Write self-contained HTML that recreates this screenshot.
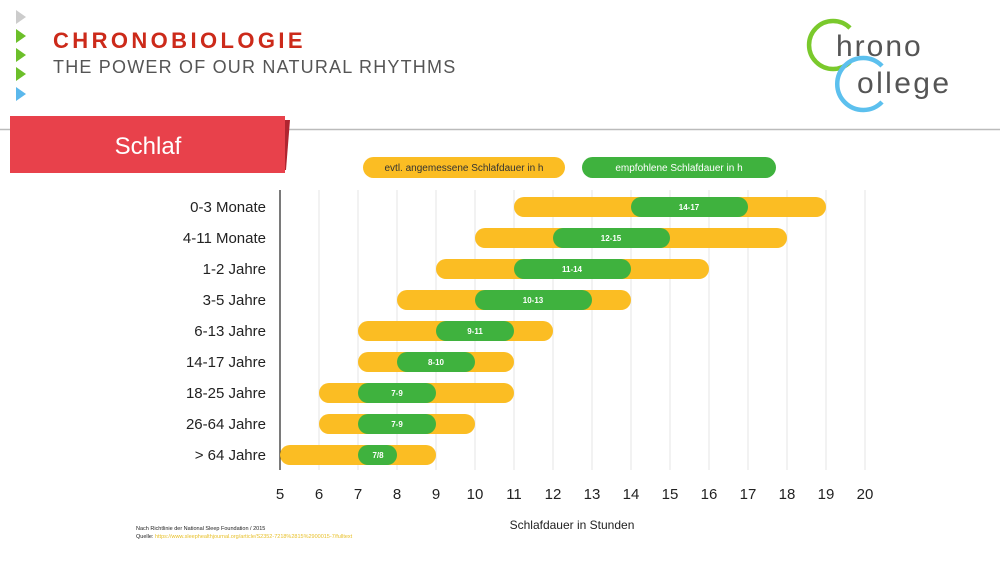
<!DOCTYPE html>
<html><head><meta charset="utf-8"><style>
body{margin:0;width:1000px;height:563px;background:#fff;position:relative;overflow:hidden;font-family:"Liberation Sans",sans-serif}
.a{position:absolute}
</style></head><body>
<svg class="a" style="left:0;top:0" width="1000" height="563">
<polygon points="16,10 26,17 16,24" fill="#ccc"/>
<polygon points="16,29 26,36 16,43" fill="#6cbf2a"/>
<polygon points="16,48 26,55 16,62" fill="#6cbf2a"/>
<polygon points="16,67 26,74 16,81" fill="#6cbf2a"/>
<polygon points="16,87 26,94 16,101" fill="#5bb8ec"/>
<text x="53" y="48" font-size="22" font-weight="bold" fill="#cc2a1a" letter-spacing="3.4">CHRONOBIOLOGIE</text>
<text x="53" y="73" font-size="18" fill="#555" letter-spacing="1.2">THE POWER OF OUR NATURAL RHYTHMS</text>
<line x1="0" y1="129.5" x2="1000" y2="129.5" stroke="#bbb" stroke-width="1.5"/>
<polygon points="282,120 290,120 286,170 280,170" fill="#b02530"/>
<rect x="10" y="116" width="275" height="57" fill="#e8414b"/>
<text x="148" y="154" font-size="24" fill="#fff" text-anchor="middle">Schlaf</text>
<!-- logo -->
<path d="M850,28 A24,24 0 1 0 850,62" fill="none" stroke="#7ac92c" stroke-width="4.5"/>
<path d="M882,66 A26,26 0 1 0 882,102" fill="none" stroke="#5cc0ee" stroke-width="4.5"/>
<text x="836" y="56" font-size="30" fill="#555" letter-spacing="2">hrono</text>
<text x="857" y="93" font-size="30" fill="#555" letter-spacing="2.4">ollege</text>
<!-- legend -->
<rect x="363" y="157" width="202" height="21" rx="10.5" fill="#fbbd23"/>
<text x="464" y="171" font-size="10" text-anchor="middle" fill="#333">evtl. angemessene Schlafdauer in h</text>
<rect x="582" y="157" width="194" height="21" rx="10.5" fill="#3fb23e"/>
<text x="679" y="171" font-size="10" text-anchor="middle" fill="#fff">empfohlene Schlafdauer in h</text>
<g stroke="#e6e6e6" stroke-width="1">
<line x1="319" y1="190" x2="319" y2="470"/><line x1="358" y1="190" x2="358" y2="470"/><line x1="397" y1="190" x2="397" y2="470"/><line x1="436" y1="190" x2="436" y2="470"/><line x1="475" y1="190" x2="475" y2="470"/><line x1="514" y1="190" x2="514" y2="470"/><line x1="553" y1="190" x2="553" y2="470"/><line x1="592" y1="190" x2="592" y2="470"/><line x1="631" y1="190" x2="631" y2="470"/><line x1="670" y1="190" x2="670" y2="470"/><line x1="709" y1="190" x2="709" y2="470"/><line x1="748" y1="190" x2="748" y2="470"/><line x1="787" y1="190" x2="787" y2="470"/><line x1="826" y1="190" x2="826" y2="470"/><line x1="865" y1="190" x2="865" y2="470"/>
</g>
<line x1="280" y1="190" x2="280" y2="470" stroke="#222" stroke-width="1.2"/>
<g font-size="15" fill="#222" text-anchor="end">
<text x="266" y="212">0-3 Monate</text><text x="266" y="243">4-11 Monate</text><text x="266" y="274">1-2 Jahre</text><text x="266" y="305">3-5 Jahre</text><text x="266" y="336">6-13 Jahre</text><text x="266" y="367">14-17 Jahre</text><text x="266" y="398">18-25 Jahre</text><text x="266" y="429">26-64 Jahre</text><text x="266" y="460">&gt; 64 Jahre</text>
</g>
<g fill="#fbbd23">
<rect x="514" y="197" width="312" height="20" rx="10"/>
<rect x="475" y="228" width="312" height="20" rx="10"/>
<rect x="436" y="259" width="273" height="20" rx="10"/>
<rect x="397" y="290" width="234" height="20" rx="10"/>
<rect x="358" y="321" width="195" height="20" rx="10"/>
<rect x="358" y="352" width="156" height="20" rx="10"/>
<rect x="319" y="383" width="195" height="20" rx="10"/>
<rect x="319" y="414" width="156" height="20" rx="10"/>
<rect x="280" y="445" width="156" height="20" rx="10"/>
</g>
<g fill="#3fb23e">
<rect x="631" y="197" width="117" height="20" rx="10"/>
<rect x="553" y="228" width="117" height="20" rx="10"/>
<rect x="514" y="259" width="117" height="20" rx="10"/>
<rect x="475" y="290" width="117" height="20" rx="10"/>
<rect x="436" y="321" width="78" height="20" rx="10"/>
<rect x="397" y="352" width="78" height="20" rx="10"/>
<rect x="358" y="383" width="78" height="20" rx="10"/>
<rect x="358" y="414" width="78" height="20" rx="10"/>
<rect x="358" y="445" width="39" height="20" rx="10"/>
</g>
<g font-size="8" font-weight="bold" fill="#fff" text-anchor="middle">
<text x="689" y="210">14-17</text><text x="611" y="241">12-15</text><text x="572" y="272">11-14</text><text x="533" y="303">10-13</text><text x="475" y="334">9-11</text><text x="436" y="365">8-10</text><text x="397" y="396">7-9</text><text x="397" y="427">7-9</text><text x="378" y="458">7/8</text>
</g>
<g font-size="15" fill="#222" text-anchor="middle">
<text x="280" y="499">5</text><text x="319" y="499">6</text><text x="358" y="499">7</text><text x="397" y="499">8</text><text x="436" y="499">9</text><text x="475" y="499">10</text><text x="514" y="499">11</text><text x="553" y="499">12</text><text x="592" y="499">13</text><text x="631" y="499">14</text><text x="670" y="499">15</text><text x="709" y="499">16</text><text x="748" y="499">17</text><text x="787" y="499">18</text><text x="826" y="499">19</text><text x="865" y="499">20</text>
</g>
<text x="572" y="529" font-size="12" fill="#222" text-anchor="middle">Schlafdauer in Stunden</text>
<text x="136" y="530" font-size="5.5" fill="#222">Nach Richtlinie der National Sleep Foundation / 2015</text>
<text x="136" y="538" font-size="5.5" fill="#222">Quelle: <tspan fill="#e8c02a">https://www.sleephealthjournal.org/article/S2352-7218%2815%2900015-7/fulltext</tspan></text>
</svg>
</body></html>
